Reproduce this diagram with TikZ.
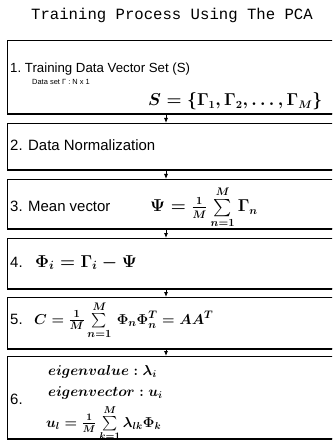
\documentclass[tikz,border=0pt]{standalone}
\usepackage{amsmath}
\usepackage{fontspec}
\setmainfont{Liberation Sans}
\newfontfamily\titlefont{Liberation Mono}
\usetikzlibrary{arrows.meta}

\begin{document}
\begin{tikzpicture}[x=1bp, y=-1bp,
    font=\fontsize{15}{18}\selectfont,
    stepbox/.style={draw, line width=.8pt, anchor=north west, minimum width=345bp,
      inner sep=0pt},
    shadowline/.style={line width=1.7pt},
    arrow/.style={-{Latex[length=5bp,width=4bp]}, line width=.8pt},
    steptext/.style={anchor=base west, inner sep=0pt},
    formula/.style={anchor=base west, inner sep=0pt,
      font=\fontsize{15}{18}\selectfont\boldmath},
    eigen/.style={formula, font=\fontsize{14.5}{17}\selectfont\boldmath}
  ]
    \useasboundingbox (0,0) rectangle (332,441);
    \clip (0,0) rectangle (332,441);
    \node[font=\titlefont\fontsize{15.7}{18}\selectfont] (title) at (172,15)
      {Training Process Using The PCA};

    % the six steps
    \foreach \n/\t/\h in {1/40/73,2/123/46,3/179/49,4/238/50,5/297/51,6/356/82} {
      \node[stepbox, minimum height=\h bp] (b\n) at (7,\t) {};
      \draw[shadowline] (b\n.south west) -- (b\n.south east);
    }
    \coordinate (ax) at (166,0);
    \foreach \a/\b in {1/2,2/3,3/4,4/5,5/6} {
      \draw[arrow] (b\a.south -| ax) -- (b\b.north -| ax);
    }

    \node[steptext, font=\fontsize{13.3}{16}\selectfont] (s1) at (10,73)
      {1.\ Training Data Vector Set (S)};
    \node[steptext, font=\fontsize{7.5}{9}\selectfont] (d1) at (32,85)
      {Data set Γ : N x 1};
    \node[formula, font=\fontsize{16}{19}\selectfont\boldmath] (f1) at (148,106)
      {$S = \{\Gamma_1, \Gamma_2, \ldots, \Gamma_M\}$};

    \node[steptext] (s2) at (10,151) {2. Data Normalization};

    \node[steptext] (s3) at (10,212) {3. Mean vector};
    \node[formula, font=\fontsize{16}{19}\selectfont\boldmath] (f3) at (150,212)
      {$\Psi = \tfrac{1}{M}\sum\limits_{n=1}^{M}\Gamma_n$};

    \node[steptext] (s4) at (10,267) {4.};
    \node[formula, font=\fontsize{18}{21}\selectfont\boldmath] (f4) at (35,267)
      {$\Phi_i = \Gamma_i - \Psi$};

    \node[steptext] (s5) at (10,324) {5.};
    \node[formula] (f5) at (34,324)
      {$C = \tfrac{1}{M}\sum\limits_{n=1}^{M}\,\Phi_n\Phi_n^T = AA^T$};

    \node[steptext] (s6) at (10,404) {6.};
    \node[eigen] (e1) at (48,375) {$eigenvalue : \lambda_i$};
    \node[eigen] (e2) at (48,396) {$eigenvector : u_i$};
    \node[eigen] (e3) at (46,427)
      {$u_l = \tfrac{1}{M}\sum\limits_{k=1}^{M}\lambda_{lk}\Phi_k$};
  \end{tikzpicture}
\end{document}
